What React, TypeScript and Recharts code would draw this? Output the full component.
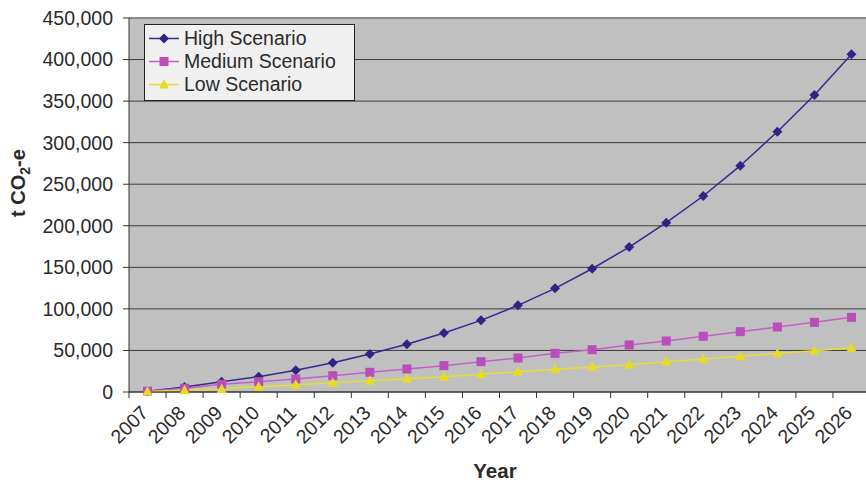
import React from "react";
import { LineChart, Line, XAxis, YAxis, CartesianGrid, Legend, ReferenceLine } from "recharts";

const years = [
  "2007", "2008", "2009", "2010", "2011", "2012", "2013", "2014", "2015", "2016",
  "2017", "2018", "2019", "2020", "2021", "2022", "2023", "2024", "2025", "2026",
];
const high = [
  1000, 6000, 12400, 18400, 26100, 35300, 45700, 57400, 71000, 86200,
  104300, 124700, 148300, 174400, 203700, 235800, 272300, 313200, 357400, 406300,
];
const medium = [
  1000, 4500, 9300, 12400, 15600, 19600, 23700, 27700, 31700, 36500,
  40900, 46500, 50900, 56600, 61400, 67000, 72600, 78200, 83800, 89800,
];
const low = [
  500, 2000, 3600, 6400, 8800, 11200, 13600, 16000, 18400, 21300,
  24400, 27300, 30100, 32900, 36500, 39700, 42900, 46500, 49700, 53300,
];
const yTicks = [0, 50000, 100000, 150000, 200000, 250000, 300000, 350000, 400000, 450000];

const data = years.map((year, i) => ({ year, high: high[i], medium: medium[i], low: low[i] }));

const FONT = '"Liberation Sans", Arial, Helvetica, sans-serif';
const CHART_W = 870;
const Y_W = 129;
const BAND = (CHART_W - Y_W) / years.length;

const SERIES = [
  { key: "high", name: "High Scenario", line: "#35298f", fill: "#2f2386", shape: "diamond" },
  { key: "medium", name: "Medium Scenario", line: "#c460c4", fill: "#b94db9", shape: "square" },
  { key: "low", name: "Low Scenario", line: "#e6de30", fill: "#e6dc24", shape: "triangle" },
];

function Marker({ cx, cy, shape, fill }: any) {
  if (cx == null || cy == null) return null;
  if (shape === "diamond")
    return <polygon points={`${cx},${cy - 5} ${cx + 5},${cy} ${cx},${cy + 5} ${cx - 5},${cy}`} fill={fill} />;
  if (shape === "square") return <rect x={cx - 4.5} y={cy - 4.5} width={9} height={9} fill={fill} />;
  return <polygon points={`${cx},${cy - 5.5} ${cx + 5},${cy + 4} ${cx - 5},${cy + 4}`} fill={fill} />;
}

const fmt = (v: number) => v.toLocaleString("en-US");

function XTick({ x, y, payload }: any) {
  const tx = x + 2;
  const ty = y + 22;
  return (
    <g>
      <line x1={x - BAND / 2} x2={x - BAND / 2} y1={y} y2={y + 6} stroke="#333" />
      <text
        x={tx}
        y={ty}
        transform={`rotate(-45 ${tx} ${ty})`}
        textAnchor="end"
        fontSize={19.5}
        fontFamily={FONT}
        fill="#2b2b2b"
      >
        {payload.value}
      </text>
    </g>
  );
}

function LegendBox() {
  return (
    <div
      style={{
        width: 209,
        height: 73,
        border: "1px solid #222",
        background: "#f0f0f0",
        fontFamily: FONT,
        fontSize: 19.5,
        color: "#2b2b2b",
        boxSizing: "content-box",
        paddingTop: 2,
      }}
    >
      {SERIES.map((s) => (
        <div key={s.key} style={{ display: "flex", alignItems: "center", height: 23, lineHeight: "23px" }}>
          <svg width={38} height={23} style={{ flex: "none" }}>
            <line x1={4} x2={34} y1={11.5} y2={11.5} stroke={s.line} strokeWidth={1.5} />
            <Marker cx={19} cy={11.5} shape={s.shape} fill={s.fill} />
          </svg>
          <span style={{ marginLeft: 1 }}>{s.name}</span>
        </div>
      ))}
    </div>
  );
}

const yearLabel = () => (
  <text x={495} y={478} textAnchor="middle" fontFamily={FONT} fontWeight="bold" fontSize={20.5} fill="#2b2b2b">
    Year
  </text>
);

const unitLabel = () => (
  <text
    x={25}
    y={183}
    transform="rotate(-90 25 183)"
    textAnchor="middle"
    fontFamily={FONT}
    fontWeight="bold"
    fontSize={20}
    fill="#2b2b2b"
  >
    t CO<tspan fontSize={14} dy={5}>2</tspan>
    <tspan dy={-5}>-e</tspan>
  </text>
);

export default function App() {
  return (
    <div style={{ position: "fixed", left: 0, top: 0, width: 866, height: 482, overflow: "hidden", background: "#fff" }}>
      <LineChart width={CHART_W} height={482} data={data} margin={{ top: 18, right: 0, left: 0, bottom: 0 }}>
        <CartesianGrid vertical={false} fill="#c0c0c0" stroke="#3c3c3c" strokeOpacity={1} />
        <ReferenceLine y={450000} stroke="#8a8a8a" strokeWidth={1.5} />
        <XAxis
          dataKey="year"
          height={90}
          interval={0}
          padding={{ left: BAND / 2, right: BAND / 2 }}
          tickLine={false}
          tickSize={0}
          tickMargin={0}
          axisLine={{ stroke: "#333" }}
          tick={<XTick />}
          label={yearLabel}
        />
        <YAxis
          width={Y_W}
          domain={[0, 450000]}
          ticks={yTicks}
          interval={0}
          tickFormatter={fmt}
          tickSize={6}
          tickMargin={10}
          tickLine={{ stroke: "#333" }}
          axisLine={{ stroke: "#333" }}
          tick={{ fontSize: 19.5, fontFamily: FONT, fill: "#2b2b2b" }}
          label={unitLabel}
        />
        <Legend
          layout="vertical"
          align="center"
          verticalAlign="middle"
          wrapperStyle={{ left: 144, top: 24, width: 211 }}
          content={() => <LegendBox />}
        />
        {SERIES.map((s) => (
          <Line
            key={s.key}
            dataKey={s.key}
            name={s.name}
            type="linear"
            stroke={s.line}
            strokeWidth={1.5}
            dot={(p: any) => <Marker key={`${s.key}-${p.index}`} cx={p.cx} cy={p.cy} shape={s.shape} fill={s.fill} />}
            activeDot={false}
            isAnimationActive={false}
          />
        ))}
      </LineChart>
    </div>
  );
}
